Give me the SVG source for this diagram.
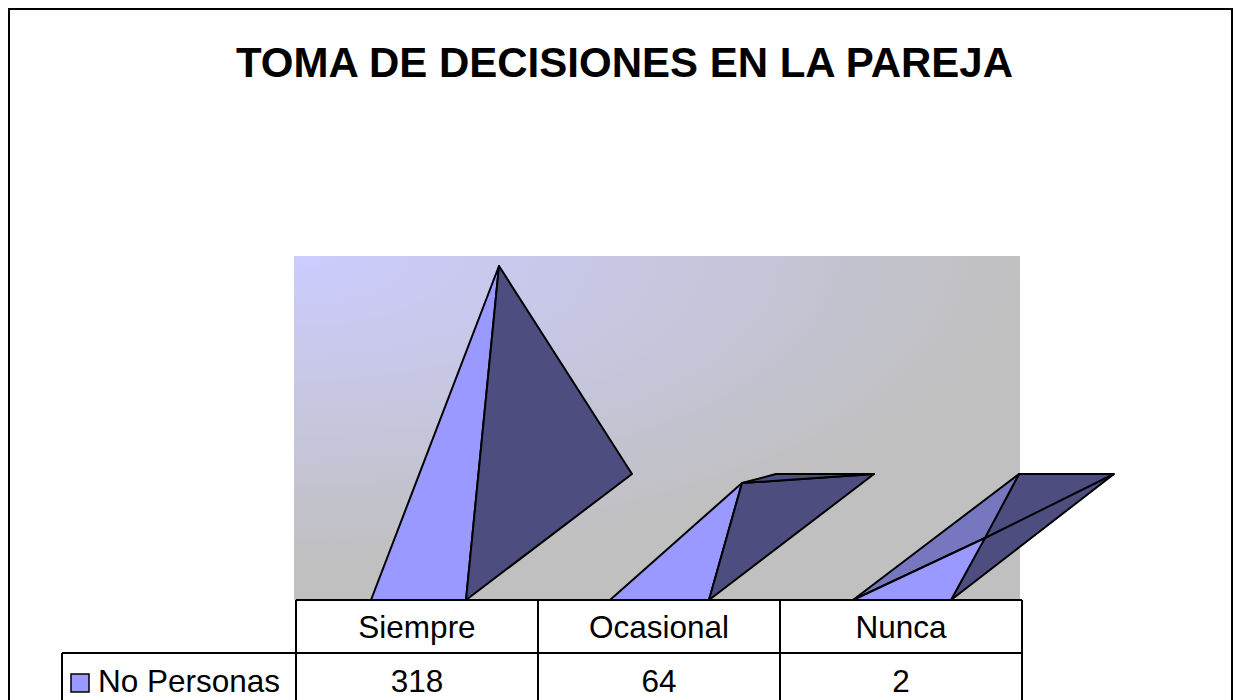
<svg xmlns="http://www.w3.org/2000/svg" width="1236" height="700" viewBox="0 0 1236 700">
<defs>
<radialGradient id="bg" gradientUnits="userSpaceOnUse" cx="294" cy="256" r="820" gradientTransform="translate(294 256) scale(1 0.42) translate(-294 -256)">
<stop offset="0" stop-color="#CCCCFF"/>
<stop offset="0.9" stop-color="#C0C0C0"/>
<stop offset="1" stop-color="#C0C0C0"/>
</radialGradient>
<style>
.e{stroke:#000;stroke-width:2;stroke-linejoin:round}
.lt{fill:#9999FF}
.dk{fill:#4D4D80}
.md{fill:#7777C0}
.t{font-family:"Liberation Sans",Arial,sans-serif;font-size:31.5px;fill:#000}
.g{stroke:#000;stroke-width:2;fill:none}
</style>
</defs>
<rect x="0" y="0" width="1236" height="700" fill="#fff"/>
<rect x="9" y="9" width="1223" height="700" fill="none" stroke="#000" stroke-width="2"/>
<text x="624.5" y="77" text-anchor="middle" font-family="'Liberation Sans',Arial,sans-serif" font-weight="bold" font-size="42">TOMA DE DECISIONES EN LA PAREJA</text>
<rect id="plot" x="294" y="256" width="726" height="344" fill="url(#bg)"/>
<g id="siempre">
<polygon class="e lt" points="371,600 499,266 466,600"/>
<polygon class="e dk" points="466,600 499,266 632,474"/>
</g>
<g id="ocasional">
<polygon class="e lt" points="610,600 742,483 709,600"/>
<polygon class="e dk" points="709,600 742,483 874,474"/>
<polygon class="e dk" points="742,483 776,474 874,474"/>
</g>
<g id="nunca">
<polygon class="e dk" points="951,600 1019,474 1114,474"/>
<polygon class="e md" points="853,600 1019,474 985,538"/>
<polygon class="e lt" points="853,600 985,538 951,600"/>
<line class="e" x1="985" y1="538" x2="1114" y2="474"/>
</g>
<g id="table">
<path class="g" d="M296,600 H1022 M62,653 H1022 M62,653 V700 M296,600 V700 M538,600 V700 M780,600 V700 M1022,600 V700"/>
<text class="t" x="417" y="638" text-anchor="middle">Siempre</text>
<text class="t" x="659" y="638" text-anchor="middle">Ocasional</text>
<text class="t" x="901" y="638" text-anchor="middle">Nunca</text>
<rect x="71" y="674" width="18" height="18" fill="#9999FF" stroke="#000" stroke-width="1.5"/>
<text class="t" x="98" y="692">No Personas</text>
<text class="t" x="417" y="692" text-anchor="middle">318</text>
<text class="t" x="659" y="692" text-anchor="middle">64</text>
<text class="t" x="901" y="692" text-anchor="middle">2</text>
</g>
</svg>
